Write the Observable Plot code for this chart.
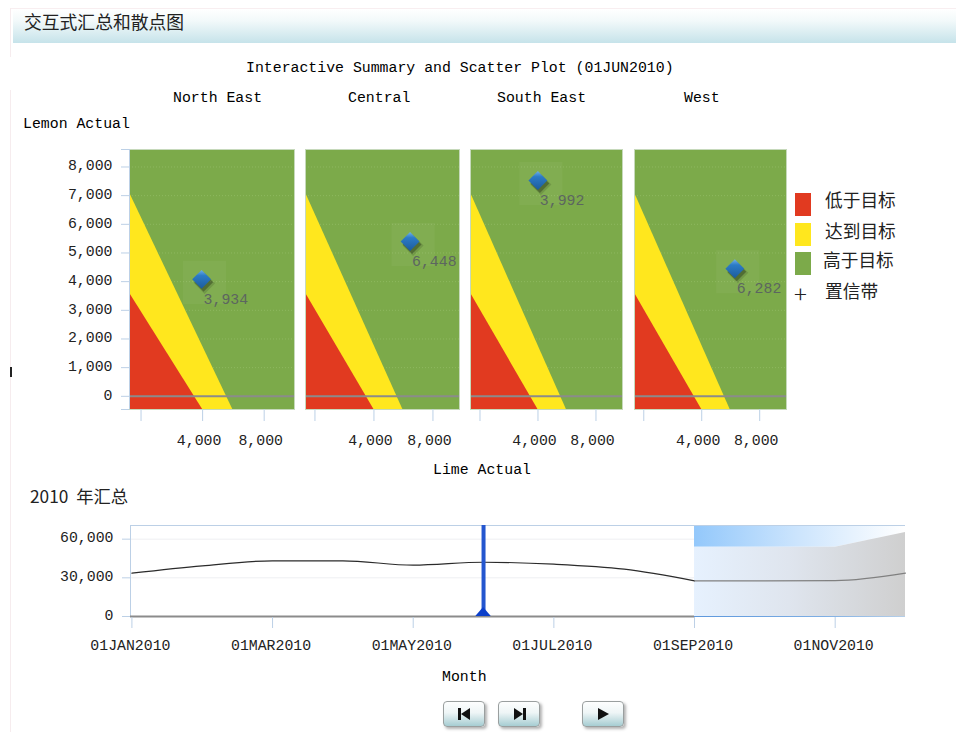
<!DOCTYPE html>
<html><head><meta charset="utf-8">
<script src="https://cdn.jsdelivr.net/npm/d3@7"></script>
<script src="https://cdn.jsdelivr.net/npm/@observablehq/plot@0.6"></script>
<style>
html,body{margin:0;padding:0;background:#fff;}
#page{position:relative;width:956px;height:732px;overflow:hidden;background:#fff;}
#page svg{position:absolute;background:transparent;overflow:visible;}
.t{position:absolute;white-space:nowrap;line-height:1;transform:translateY(-50%);}
.m{font-family:"Liberation Mono",monospace;font-size:14.85px;color:#000;}
.c{font-family:"Noto Sans CJK SC",sans-serif;color:#222;}
.box{position:absolute;}
.btn{position:absolute;top:701px;width:40px;height:24px;border:1px solid #9a9f9f;border-radius:4px;
background:linear-gradient(#fdfefe 0%,#eef5f6 45%,#a6cdd2 100%);box-shadow:2px 2px 3px rgba(0,0,0,.3);}
.btn svg{left:0;top:0;}
</style></head>
<body><div id="page"></div>
<script>
const regions = ["North East", "Central", "South East", "West"];
const limeActual = [3934, 6448, 3992, 6282];
const lemonActual = [4080, 5400, 7530, 4450];
const limeDomains = [[-750, 9970], [-640, 9800], [-655, 9830], [-640, 9850]];
const panelLefts = [130, 306, 471, 635];
const panelWidths = [165, 154, 152, 152];
const lemonDomain = [-460, 8610];
const lemonTicks = [0, 1000, 2000, 3000, 4000, 5000, 6000, 7000, 8000];
const limeTicks = [0, 4000, 8000];
const belowLimeEnd = 4000, belowLemonStart = 3600;
const onLimeEnd = 5960, onLemonStart = 7100;
const legendLabels = ["低于目标", "达到目标", "高于目标", "置信带"];
const legendColors = ["#e13a20", "#ffe71e", "#7caa4a"];

const monthIndex = [0, 1, 2, 3, 4, 5, 6, 7, 8, 9, 10, 11];
const monthTotals = [33600, 39300, 43200, 43200, 39800, 42100, 40600, 36700, 27700, 27700, 27800, 33600];
const monthTickIndex = [0, 2, 4, 6, 8, 10];
const monthTickLabels = ["01JAN2010", "01MAR2010", "01MAY2010", "01JUL2010", "01SEP2010", "01NOV2010"];
const summaryTicks = [0, 30000, 60000];
const summaryDomain = [-780, 70600];
const forecastIndex = [8, 9, 10, 11];
const forecastUpper = [53800, 53800, 53800, 65200];
const selectedMonth = 5;
const markerX = [4.89, 5, 5.11], markerY = [0, 7000, 0];

const page = document.getElementById("page");
const fmt = d3.format(",");
const axisColor = "#bcd0e6", mono = "Liberation Mono, monospace";

function text(x, y, s, cls, size) {
  const d = document.createElement("div");
  d.className = "t " + cls; d.style.left = x + "px"; d.style.top = y + "px";
  if (size) d.style.fontSize = size + "px";
  d.textContent = s; page.appendChild(d); return d;
}
function box(x, y, w, h, css) {
  const d = document.createElement("div");
  d.className = "box";
  d.style.cssText = `left:${x}px;top:${y}px;width:${w}px;height:${h}px;${css}`;
  page.appendChild(d); return d;
}
function gradient(id, stops, vertical) {
  return () => {
    const defs = d3.create("svg:defs");
    const g = defs.append("linearGradient").attr("id", id).attr("x1", 0).attr("y1", 0)
      .attr("x2", vertical ? 0 : 1).attr("y2", vertical ? 1 : 0);
    stops.forEach(([o, c, a]) => g.append("stop").attr("offset", o).attr("stop-color", c).attr("stop-opacity", a ?? 1));
    return defs.node();
  };
}

// page furniture
box(13, 9, 943, 34, "background:linear-gradient(#ffffff 0%,#f2f9fa 35%,#c6e3ea 100%);");
box(10, 8, 946, 1, "background:#f8eef0;");
box(10, 8, 1, 49, "background:#f6ecee;");
box(10, 90, 1, 642, "background:#f6ecee;");
box(10, 367, 2, 10, "background:#222;");
text(24, 22, "交互式汇总和散点图", "c", 17.8);
text(246, 67.5, "Interactive Summary and Scatter Plot (01JUN2010)", "m");
[173, 348, 497, 684].forEach((x, i) => text(x, 98, regions[i], "m"));
text(23, 124, "Lemon Actual", "m");
text(433, 470, "Lime Actual", "m");
text(442, 677, "Month", "m");
const yearTitle = text(30, 495.5, "2010 年汇总", "c", 17.3);
yearTitle.style.wordSpacing = "4px";

// small multiples
regions.forEach((region, i) => {
  const first = i === 0;
  const [x0, x1] = limeDomains[i];
  const marginLeft = first ? 130 : 5, marginRight = 5;
  const below = [{x: x0, y: belowLemonStart}, {x: belowLimeEnd, y: lemonDomain[0]}];
  const on = [{x: x0, y: onLemonStart}, {x: onLimeEnd, y: lemonDomain[0]}];
  const point = [{x: limeActual[i], y: lemonActual[i], region}];
  const marks = [
    gradient("dia" + i, [[0, "#6fb0e8"], [0.3, "#2c7bc6"], [1, "#1c5c9c"]], true),
    Plot.rect([0], {x1: x0, x2: x1, y1: lemonDomain[0], y2: lemonDomain[1], fill: legendColors[2]}),
    Plot.ruleY(lemonTicks, {stroke: "#8eb860", strokeDasharray: "1,2"}),
    Plot.areaY(on, {x: "x", y1: lemonDomain[0], y2: "y", fill: legendColors[1]}),
    Plot.areaY(below, {x: "x", y1: lemonDomain[0], y2: "y", fill: legendColors[0]}),
    Plot.ruleY([0], {stroke: "#8b8b8b", strokeWidth: 2}),
    Plot.frame({stroke: "#c6d9bb", strokeWidth: 1}),
    Plot.dot(point, {x: "x", y: "y", symbol: "square", r: 24.3, dx: 3, dy: 3, fill: "#ffffff", fillOpacity: 0.045}),
    Plot.dot(point, {x: "x", y: "y", symbol: "diamond2", r: 9.5, dx: 3, dy: 4, fill: "#000", fillOpacity: 0.12}),
    Plot.dot(point, {x: "x", y: "y", symbol: "diamond2", r: 8.5, dx: 2, dy: 3, fill: "#000", fillOpacity: 0.28}),
    Plot.dot(point, {x: "x", y: "y", symbol: "diamond2", r: 8.5, fill: `url(#dia${i})`}),
    Plot.text(point, {x: "x", y: "y", text: d => fmt(d.x), dx: 2, dy: 19.5, textAnchor: "start",
      fill: "#5c6660", fontSize: 14.85, fontFamily: mono}),
    Plot.axisX({ticks: limeTicks, tickSize: 12, stroke: axisColor, fill: "none", label: null}),
    Plot.axisX({ticks: limeTicks.slice(1), tickFormat: fmt, tickSize: 0, tickPadding: 25, dx: -3.5, fill: "#222", label: null})
  ];
  if (first) {
    marks.push(
      Plot.ruleX([x0], {stroke: axisColor}),
      Plot.axisY({ticks: [lemonDomain[0], ...lemonTicks, lemonDomain[1]], tickSize: 8, stroke: axisColor, fill: "none", label: null}),
      Plot.axisY({ticks: lemonTicks, tickFormat: fmt, tickSize: 0, tickPadding: 17, dy: -1.5, fill: "#222", label: null})
    );
  }
  const chart = Plot.plot({
    width: marginLeft + panelWidths[i] + marginRight, height: 300,
    marginLeft, marginRight, marginTop: 9, marginBottom: 31,
    style: {fontFamily: mono, fontSize: "14.85px", background: "transparent", overflow: "visible"},
    x: {domain: limeDomains[i], axis: null},
    y: {domain: lemonDomain, axis: null},
    marks
  });
  chart.style.left = (panelLefts[i] - marginLeft - 1) + "px";
  chart.style.top = "140px";
  page.appendChild(chart);
});

// legend
legendColors.forEach((c, i) => box(795, [193, 223, 252][i], 16, 22.5, `background:${c};`));
[[825, 200], [825, 230.5], [823, 260], [825, 291]].forEach(([x, y], i) => text(x, y, legendLabels[i], "c", 17.7));
const plus = text(794, 292.5, "+", "c", 24);
plus.style.fontWeight = "300";

// yearly summary
const series = monthIndex.map((m, i) => ({m, v: monthTotals[i]}));
const actual = series.filter(d => d.m <= forecastIndex[0]);
const forecast = series.filter(d => d.m >= forecastIndex[0]);
const band = forecastIndex.map((m, i) => ({m, u: forecastUpper[i]}));
const summary = Plot.plot({
  width: 956, height: 152, marginLeft: 130, marginRight: 51, marginTop: 10, marginBottom: 50,
  style: {fontFamily: mono, fontSize: "14.85px", background: "transparent", overflow: "visible"},
  x: {domain: [-0.02, 11], axis: null},
  y: {domain: summaryDomain, axis: null},
  marks: [
    gradient("upperFade", [[0, "#93c8fb"], [0.5, "#cde5fd"], [1, "#ffffff"]], false),
    gradient("bandFade", [[0, "#e6f1fe"], [0.45, "#dfe5ee"], [1, "#cfcfcf"]], false),
    gradient("baseFade", [[0, "#5d97dc"], [0.6, "#7daee4"], [1, "#b6cfe9"]], false),
    Plot.ruleY(summaryTicks.slice(1), {stroke: "#eeeff2"}),
    Plot.areaY(band, {x: "m", y1: summaryDomain[1], y2: "u", fill: "url(#upperFade)"}),
    Plot.areaY(band, {x: "m", y1: 0, y2: "u", fill: "url(#bandFade)"}),
    Plot.ruleY([summaryDomain[1]], {stroke: axisColor}),
    Plot.ruleX([-0.02], {stroke: axisColor}),
    Plot.ruleY([0], {x1: -0.02, x2: forecastIndex[0], stroke: "#8b8b8b", strokeWidth: 2}),
    Plot.rect([0], {x1: forecastIndex[0], x2: 11, y1: -780, y2: 0, fill: "url(#baseFade)"}),
    Plot.lineY(actual, {x: "m", y: "v", stroke: "#2b2b2b", strokeWidth: 1.2, curve: "monotone-x"}),
    Plot.lineY(forecast, {x: "m", y: "v", stroke: "#808080", strokeWidth: 1.2, curve: "monotone-x"}),
    Plot.ruleX([selectedMonth], {y1: 0, y2: summaryDomain[1], stroke: "#2456cf", strokeWidth: 4}),
    Plot.areaY(markerX.map((x, i) => ({x, y: markerY[i]})), {x: "x", y1: 0, y2: "y", fill: "#0b3fca"}),
    Plot.axisX({ticks: monthTickIndex, tickSize: 11, stroke: axisColor, fill: "none", label: null}),
    Plot.axisX({ticks: monthTickIndex, tickFormat: d => monthTickLabels[monthTickIndex.indexOf(d)], tickSize: 0, tickPadding: 22, dx: -1.5, fill: "#222", label: null}),
    Plot.axisY({ticks: summaryTicks, tickSize: 8, stroke: axisColor, fill: "none", label: null}),
    Plot.axisY({ticks: summaryTicks, tickFormat: fmt, tickSize: 0, tickPadding: 17, dy: -1.5, fill: "#222", label: null})
  ]
});
summary.style.left = "0px";
summary.style.top = "515px";
page.appendChild(summary);

// playback buttons
[
  [443, '<rect x="14" y="6" width="3" height="12"/><polygon points="26,6 26,18 17,12"/>'],
  [498, '<rect x="24" y="6" width="3" height="12"/><polygon points="15,6 15,18 24,12"/>'],
  [581.5, '<polygon points="15,6 15,18 26,12"/>']
].forEach(([x, glyph]) => {
  const b = document.createElement("div");
  b.className = "btn"; b.style.left = x + "px";
  b.innerHTML = `<svg width="40" height="24" fill="#111">${glyph}</svg>`;
  page.appendChild(b);
});
</script></body></html>
